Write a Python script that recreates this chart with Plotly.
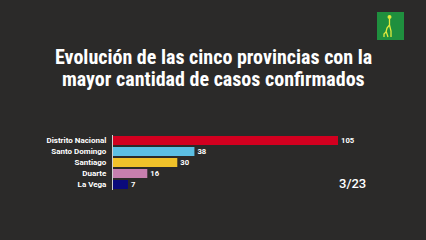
import plotly.graph_objects as go

provincias = ["Distrito Nacional", "Santo Domingo", "Santiago", "Duarte", "La Vega"]
casos = [105, 38, 30, 16, 7]
colores = ["#d2001f", "#5cbfe3", "#f0c22a", "#c77fae", "#0b0b7c"]
fecha = "3/23"
titulo = ["Evolución de las cinco provincias con la",
          "mayor cantidad de casos confirmados"]

BG = "#2b2a29"
FONT = "Liberation Sans Narrow, Roboto Condensed, Arial Narrow, sans-serif"

fig = go.Figure(go.Bar(
    x=casos, y=provincias, orientation="h",
    marker=dict(color=colores, line=dict(width=0)),
    text=[str(v) for v in casos], textposition="outside",
    textfont=dict(color="white", size=8.5, family="Roboto", weight="bold"),
    cliponaxis=False,
))

PT, PB = 135, 190
def py(y):
    return (PB - y) / (PB - PT)
def px(x):
    return (x - 113) / 300

fig.update_layout(
    width=426, height=240,
    paper_bgcolor=BG, plot_bgcolor=BG,
    margin=dict(l=113, r=13, t=PT, b=240 - PB),
    bargap=0.18,
    showlegend=False,
    xaxis=dict(range=[0, 140], showgrid=False, zeroline=False,
               showticklabels=False, showline=False, fixedrange=True),
    yaxis=dict(autorange="reversed", showgrid=False, zeroline=False,
               showline=True, linecolor="#cfcfcf", linewidth=1,
               ticks="", tickfont=dict(color="white", size=8, family="Roboto", weight="bold"),
               ticklabelstandoff=4),
)

for line, yc in zip(titulo, [56.5, 79]):
    fig.add_annotation(text="<b>" + line + "</b>", xref="paper", yref="paper",
                       x=px(213), y=py(yc), xanchor="center", yanchor="middle",
                       showarrow=False,
                       font=dict(color="white", size=20, family=FONT))

fig.add_annotation(text=fecha, xref="paper", yref="paper",
                   x=px(337), y=py(183), xanchor="left", yanchor="middle",
                   showarrow=False,
                   font=dict(color="white", size=13, family="Roboto", weight=500))

# logo
fig.add_shape(type="rect", xref="paper", yref="paper",
              x0=px(377), x1=px(404), y0=py(40), y1=py(12),
              fillcolor="#1f8f3e", line=dict(width=0), layer="above")
Y = "#e2ea3c"
fig.add_shape(type="circle", xref="paper", yref="paper",
              x0=px(387.5), x1=px(391.5), y0=py(19), y1=py(15),
              fillcolor=Y, line=dict(width=0), layer="above")
fig.add_shape(type="path", xref="paper", yref="paper", layer="above",
              path=f"M {px(389.5)} {py(19)} L {px(389.5)} {py(25)} L {px(387)} {py(28)} "
                   f"L {px(386)} {py(32)} L {px(384)} {py(34)} L {px(384)} {py(37)} "
                   f"M {px(389.5)} {py(25)} L {px(391)} {py(31)} L {px(391)} {py(37)} "
                   f"M {px(386)} {py(31)} L {px(388)} {py(37)}",
              line=dict(color=Y, width=1.3))

fig.write_html("out.html")
